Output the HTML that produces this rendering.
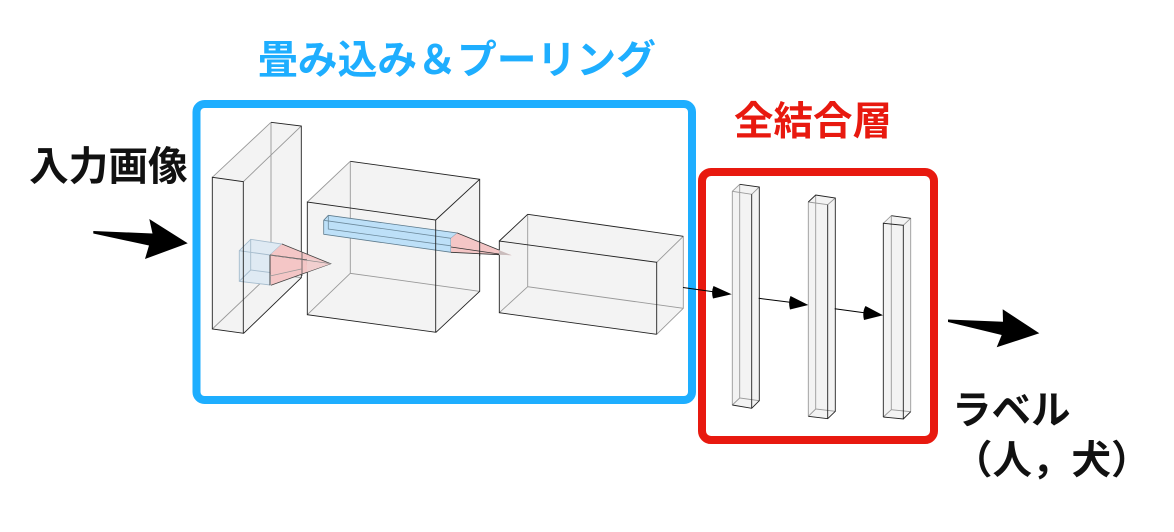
<!DOCTYPE html>
<html><head><meta charset="utf-8"><style>
html,body{margin:0;padding:0;background:#fff;width:1174px;height:532px;overflow:hidden}
svg{display:block}
text{font-family:"Liberation Sans","Noto Sans CJK JP",sans-serif;font-weight:700}
.f{fill:#f3f3f3;stroke:none}
.b{fill:none;stroke:#222;stroke-width:.9}
.g{fill:none;stroke:#999;stroke-width:.9}
</style></head><body>
<svg width="1174" height="532" viewBox="0 0 1174 532" xmlns="http://www.w3.org/2000/svg">
<rect x="196.500" y="104" width="495.500" height="296" rx="8" fill="none" stroke="#1eaeff" stroke-width="8"/>
<rect x="702" y="172" width="232" height="268" rx="9" fill="none" stroke="#e8190f" stroke-width="8"/>

<!-- fills -->
<path class="f" d="M212.300 177.300L271 122.300L301.300 126V277.700L243.700 333.300L212.300 329Z"/>
<path class="f" d="M307.300 202L350.300 161.300L479.700 179.300V291.300L436 332.300L307.300 314.700Z"/>
<path class="f" d="M499.300 241L527.700 214.300L683.300 236.300V308.300L656.700 334.300L499.300 312.700Z"/>

<!-- box 1 -->
<path class="g" d="M271 122.300V273.300L301.300 277.700M271 273.300L212.300 329M212.300 177.300L271 122.300M243.300 181.700L301.300 126"/>
<path d="M239.300 250.700L250.700 239.300L282 244L270 255V285L239.300 281.300Z" fill="#dfeaf3" stroke="#a6bccd" stroke-width=".9"/>
<path d="M239.300 250.700L270 255M250.700 239.300V270L282 274M250.700 270L239.300 281.300" fill="none" stroke="#a6bccd" stroke-width=".9"/>
<path class="b" d="M271 122.300L301.300 126V277.700L243.700 333.300L212.300 329V177.300L243.300 181.700V333.300"/>

<!-- box 2 -->
<path class="g" d="M350.300 161.300V273.300L479.300 291.300M350.300 273.300L307.300 314.700M307.300 202L350.300 161.300"/>
<path d="M323.700 220.300L328.300 215.300L457.300 233V246.700L451 252.300L323.700 234.300Z" fill="#bde0f8" stroke="#5d7a8c" stroke-width=".8"/>
<path d="M323.700 220.300L451 238.300L457.300 233M451 238.300V252.300M328.300 215.300V229L457.300 246.700" fill="none" stroke="#6d8a9c" stroke-width=".8"/>
<path class="b" d="M350.300 161.300L479.700 179.300V291.300L436 332.300L307.300 314.700V202L435.700 220V332.300M435.700 220L479.700 179.300"/>

<!-- box 3 -->
<path class="g" d="M527.700 214.300V286.700L683.300 308.300M527.700 286.700L499.300 312.700M683.300 236.300V308.300L656.700 334.300M656.700 262.300L683.300 236.300"/>
<path class="b" d="M527.700 214.300L683.300 236.300M656.700 334.300L499.300 312.700V241L656.700 262.300V334.300M499.300 241L527.700 214.300"/>

<!-- cone 1 -->
<path d="M282 244L270 255L271 285.300L330.700 263.700Z" fill="#f4c6c6"/>
<path d="M270 255V285.300M270 255L307 260" fill="none" stroke="#333" stroke-width=".9"/>
<path d="M282 244L330.700 263.700L271 285.300" fill="none" stroke="#444" stroke-width=".8"/>
<path d="M270 276L301.300 269" stroke="#999" stroke-width=".8"/>
<path d="M307.300 258V264.700" stroke="#999" stroke-width=".8"/>
<path d="M302 252V276" stroke="#555" stroke-width=".8"/>
<path d="M307 257L330.700 263.700L307 272Z" fill="#f1cfcf"/>
<path d="M270 255L330.700 263.700" stroke="#888" stroke-width=".7"/>

<!-- cone 2 -->
<path d="M457.300 233L451 238.300V252.300L511.700 255.300Z" fill="#f4c6c6"/>
<path d="M499 250.300L511.700 255.300L499 254.700Z" fill="#c9bdbd"/>
<path d="M457.300 233L499 250M451 252.300L499 254.700M451 247L499 254" fill="none" stroke="#333" stroke-width=".8"/>
<path d="M479.700 240V256" stroke="#222" stroke-width=".9"/>

<!-- bar 1 -->
<path class="f" d="M732.300 191.300L739.700 184.300L759.300 187V400.700L751.700 408.300L732.300 405Z"/>
<path class="g" d="M739.700 184.300V398L759.300 400.700M739.700 398L732.300 405M732.300 191.300V405M732.300 191.300L739.700 184.300M732.300 191.300L751.700 194.300L759.300 187"/>
<path class="b" d="M739.700 184.300L759.300 187V400.700L751.700 408.300L732.300 405M751.700 194.300V408.300"/>
<!-- bar 2 -->
<path class="f" d="M808.300 202L815.700 195L835.300 198V411.300L827.700 418.700L808.300 416.300Z"/>
<path class="g" d="M815.700 195V409L835.300 411.300M815.700 409L808.300 416.300M808.300 202V416.300M808.300 202L827.700 204.700L835.300 198"/>
<path class="b" d="M808.300 202L815.700 195L835.300 198V411.300L827.700 418.700L808.300 416.300M827.700 204.700V418.700"/>
<!-- bar 3 -->
<path class="f" d="M883.300 223.300L891.300 215.700L910.700 218.300V411.700L903.300 419L883.300 417Z"/>
<path class="g" d="M891.300 215.700V409.700L910.700 411.700M891.300 409.700L883.300 417M910.700 218.300V411.700M903.300 225.300L910.700 218.300M883.300 223.300L891.300 215.700"/>
<path class="b" d="M891.300 215.700L910.700 218.300M883.300 417V223.300L903.300 225.300V419L883.300 417M903.300 419L910.700 411.700"/>

<!-- small arrows -->
<path d="M683 287.500L715 292M758.700 298.300L792 302.500M834.700 308.700L866 313" stroke="#000" stroke-width="1" fill="none"/>
<path d="M713.500 286L731.700 294.300L713 298.500Q711 292 713.500 286Z M790.500 296L808.300 305L790 309.500Q788 302 790.500 296Z M865.500 306L883 315.300L864 320Q862 312 865.500 306Z" fill="#000"/>

<!-- big arrows -->
<path d="M93.300 231L152.500 233.500L149.300 219L187.700 243.300L145 259L149 245.500L93.300 233.500Z" fill="#000"/>
<path d="M948 319.500L1003 321.700L1002.700 309.300L1039.300 333.300L996.700 347.300L1001.700 335L948 322Z" fill="#000"/>

<!-- labels -->
<text x="258" y="73.500" font-size="39.800" fill="#1eaeff">畳み込み＆プーリング</text>
<text x="734" y="135" font-size="39.500" fill="#e8190f">全結合層</text>
<text x="29" y="180" font-size="39.700" fill="#111">入力画像</text>
<text x="952" y="424" font-size="39.500" fill="#111">ラベル</text>
<text x="953" y="474" font-size="39.500" fill="#111">（人，犬）</text>
</svg>
</body></html>
